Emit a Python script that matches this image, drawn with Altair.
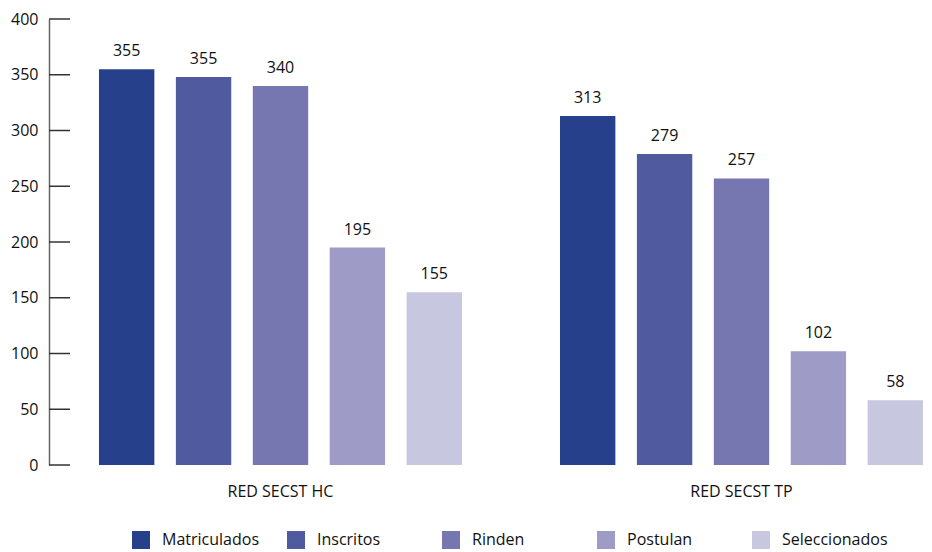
import altair as alt
import pandas as pd

groups = ["RED SECST HC", "RED SECST TP"]
categories = ["Matriculados", "Inscritos", "Rinden", "Postulan", "Seleccionados"]
hc_values = [355, 348, 340, 195, 155]
tp_values = [313, 279, 257, 102, 58]
hc_labels = ["355", "355", "340", "195", "155"]
tp_labels = ["313", "279", "257", "102", "58"]
colors = ["#26408c", "#505a9e", "#7677b0", "#9e9cc7", "#c8c7e0"]
y_ticks = [0, 50, 100, 150, 200, 250, 300, 350, 400]

rows = []
for g, vals, labs in ((groups[0], hc_values, hc_labels), (groups[1], tp_values, tp_labels)):
    for c, v, l in zip(categories, vals, labs):
        rows.append({"group": g, "category": c, "value": v, "label": l})
df = pd.DataFrame(rows)
ticks_df = pd.DataFrame({"tick": y_ticks})

FONT = "Open Sans"
FS = 16

x = alt.X(
    "group:N", sort=groups, title=None,
    scale=alt.Scale(paddingInner=0.2126, paddingOuter=0.0542, align=1),
    axis=alt.Axis(domain=False, ticks=False, labelPadding=18, labelAngle=0,
                  labelFontSize=FS, labelColor="#111111", labelFont=FONT),
)
xo = alt.XOffset("category:N", sort=categories,
                 scale=alt.Scale(paddingInner=0.28, paddingOuter=0))
y = alt.Y(
    "value:Q", title=None,
    scale=alt.Scale(domain=[0, 400], nice=False),
    axis=alt.Axis(values=y_ticks, ticks=False, grid=False, domainColor="#666666",
                  domainWidth=1.5, labelPadding=11, labelFontSize=FS,
                  labelColor="#111111", labelFont=FONT),
)
color = alt.Color(
    "category:N", sort=categories,
    scale=alt.Scale(domain=categories, range=colors),
    legend=alt.Legend(title=None, orient="none", legendX=83, legendY=512,
                      direction="horizontal", columns=5, gridAlign="all",
                      symbolType="square", symbolSize=324, symbolStrokeWidth=0,
                      labelOffset=12, columnPadding=19, labelFontSize=FS,
                      labelFont=FONT, labelColor="#111111"),
)

base = alt.Chart(df)
bars = base.mark_bar().encode(x=x, xOffset=xo, y=y, color=color)
text = base.mark_text(baseline="alphabetic", dy=-13, fontSize=FS, font=FONT,
                      color="#111111").encode(x=x, xOffset=xo, y=y, text="label:N")
tick_rules = alt.Chart(ticks_df).mark_rule(color="#333333", strokeWidth=1.5).encode(
    y=alt.Y("tick:Q"), x=alt.value(0), x2=alt.value(21)
)

chart = alt.layer(bars, text, tick_rules).properties(
    width=874, height=446,
    padding={"left": 2, "top": 3, "right": 0, "bottom": 0},
).configure_view(stroke=None)

chart.save("out.html", embed_options={"renderer": "svg", "actions": False})
